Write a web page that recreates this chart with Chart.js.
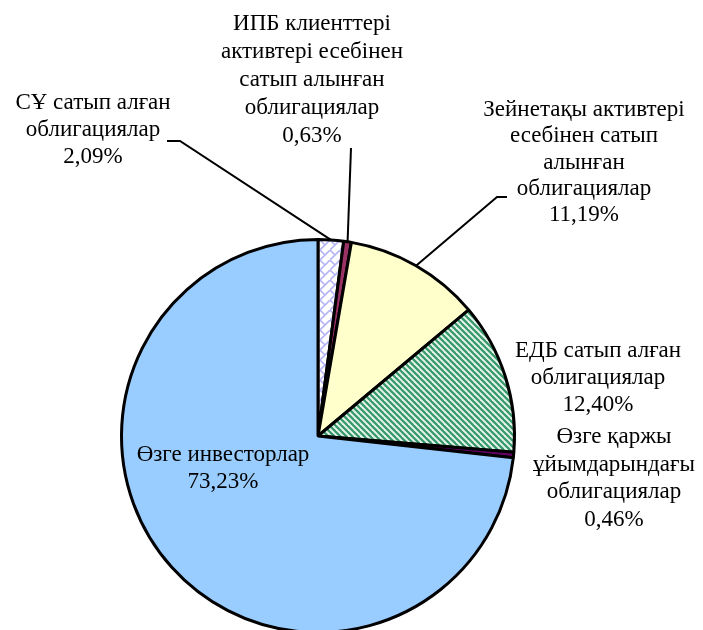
<!DOCTYPE html>
<html>
<head>
<meta charset="utf-8">
<script src="https://cdn.jsdelivr.net/npm/chart.js@4"></script>
<style>
  html, body { margin: 0; padding: 0; background: #fff; overflow: hidden; }
  #wrap { width: 703px; height: 630px; overflow: hidden; }
</style>
</head>
<body>
<div id="wrap"><canvas id="myChart" width="703" height="700" style="width:703px;height:700px"></canvas></div>
<script>
// categories and shares (%)
const categories = [
  "СҰ сатып алған облигациялар",
  "ИПБ клиенттері активтері есебінен сатып алынған облигациялар",
  "Зейнетақы активтері есебінен сатып алынған облигациялар",
  "ЕДБ сатып алған облигациялар",
  "Өзге қаржы ұйымдарындағы облигациялар",
  "Өзге инвесторлар"
];
const shares = [2.09, 0.63, 11.19, 12.40, 0.46, 73.23];
const shareLabels = ["2,09%", "0,63%", "11,19%", "12,40%", "0,46%", "73,23%"];

// label text lines (without the percentage line)
const labelLines = [
  ["СҰ сатып алған", "облигациялар"],
  ["ИПБ клиенттері", "активтері есебінен", "сатып алынған", "облигациялар"],
  ["Зейнетақы активтері", "есебінен сатып", "алынған", "облигациялар"],
  ["ЕДБ сатып алған", "облигациялар"],
  ["Өзге қаржы", "ұйымдарындағы", "облигациялар"],
  ["Өзге инвесторлар"]
];

// label layout: center x, first line y, line step, leader start (null = none)
const labelLayout = [
  { x: 93, y: 103, step: 27, leader: [[167, 141], [180, 141]] },
  { x: 312, y: 24, step: 28, leader: [[351, 148]] },
  { x: 584, y: 110, step: 26.3, leader: [[507, 197], [497, 197]] },
  { x: 598, y: 351, step: 27, leader: null },
  { x: 614, y: 437, step: 27.5, leader: null },
  { x: 223, y: 455, step: 27, leader: null }
];

function stripePattern() {
  const c = document.createElement("canvas");
  c.width = 6; c.height = 6;
  const g = c.getContext("2d");
  g.fillStyle = "#e8f6ef";
  g.fillRect(0, 0, 6, 6);
  g.strokeStyle = "#3a9a6c";
  g.lineWidth = 2.3;
  for (let o = -6; o <= 6; o += 6) {
    g.beginPath();
    g.moveTo(o - 1, -1);
    g.lineTo(o + 7, 7);
    g.stroke();
  }
  return g.createPattern(c, "repeat");
}

function latticePattern() {
  const c = document.createElement("canvas");
  c.width = 10; c.height = 10;
  const g = c.getContext("2d");
  g.fillStyle = "#ffffff";
  g.fillRect(0, 0, 10, 10);
  g.strokeStyle = "#b4b4f6";
  g.lineWidth = 1.6;
  g.beginPath();
  g.moveTo(0, 10); g.lineTo(10, 0);
  g.moveTo(0, 0); g.lineTo(5, 5);
  g.stroke();
  return g.createPattern(c, "repeat");
}

const sliceColors = [latticePattern(), "#993366", "#ffffcc", stripePattern(), "#660066", "#99ccff"];

const labelPlugin = {
  id: "sliceLabels",
  afterDraw(chart) {
    const ctx = chart.ctx;
    const arcs = chart.getDatasetMeta(0).data;
    ctx.save();
    ctx.fillStyle = "#000";
    ctx.font = "23px 'Liberation Serif', 'Times New Roman', serif";
    ctx.textAlign = "center";
    ctx.textBaseline = "middle";
    labelLayout.forEach((lay, i) => {
      const lines = labelLines[i].concat([shareLabels[i]]);
      lines.forEach((t, k) => ctx.fillText(t, lay.x, lay.y + k * lay.step));
      if (lay.leader) {
        const a = arcs[i];
        const mid = (a.startAngle + a.endAngle) / 2;
        const ex = a.x + Math.cos(mid) * a.outerRadius;
        const ey = a.y + Math.sin(mid) * a.outerRadius;
        ctx.strokeStyle = "#000";
        ctx.lineWidth = 2;
        ctx.beginPath();
        ctx.moveTo(lay.leader[0][0], lay.leader[0][1]);
        for (let k = 1; k < lay.leader.length; k++) ctx.lineTo(lay.leader[k][0], lay.leader[k][1]);
        ctx.lineTo(ex, ey);
        ctx.stroke();
      }
    });
    ctx.restore();
  }
};

const ctx = document.getElementById("myChart").getContext("2d");
const myChart = new Chart(ctx, {
  type: "pie",
  data: {
    labels: categories,
    datasets: [
      {
        data: shares,
        backgroundColor: sliceColors,
        borderColor: "#000",
        borderWidth: 3,
      },
    ],
  },
  options: {
    responsive: false,
    animation: false,
    layout: { padding: { left: 120, top: 238, right: 187, bottom: 66 } },
    plugins: { legend: { display: false }, tooltip: { enabled: false } },
  },
  plugins: [labelPlugin],
});
</script>
</body>
</html>
